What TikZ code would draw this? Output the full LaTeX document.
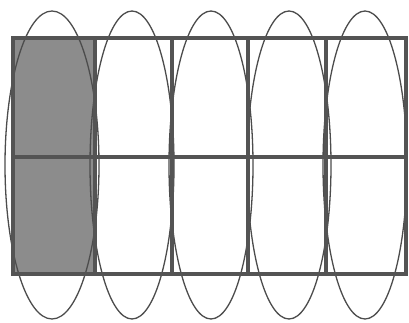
\documentclass[tikz,border=0pt]{standalone}
\usepackage{tikz}
\usepackage{xcolor}

\definecolor{gridgray}{gray}{0.33}
\definecolor{ringgray}{gray}{0.3}
\definecolor{cellgray}{gray}{0.55}

\begin{document}
\begin{tikzpicture}[x=1pt,y=-1pt,
    cellline/.style={draw=gridgray,line width=3.2pt},
    ring/.style={draw=ringgray,line width=1.3pt}]

  \useasboundingbox (0,0) rectangle (409,323);

  % shaded first column
  \fill[cellgray] (13,38) rectangle (95,274);

  % ellipses round the columns
  \draw[ring] (52,165) ellipse [x radius=47,y radius=154];
  \foreach \cx in {132,211,289,365} {
    \draw[ring] (\cx,165) ellipse [x radius=42,y radius=154];
  }

  % grid of 2 x 5 cells
  \draw[cellline] (13,38) rectangle (406,274);
  \draw[cellline] (13,157) -- (406,157);
  \foreach \gx in {95,172,248,326} {
    \draw[cellline] (\gx,38) -- (\gx,274);
  }

\end{tikzpicture}
\end{document}
